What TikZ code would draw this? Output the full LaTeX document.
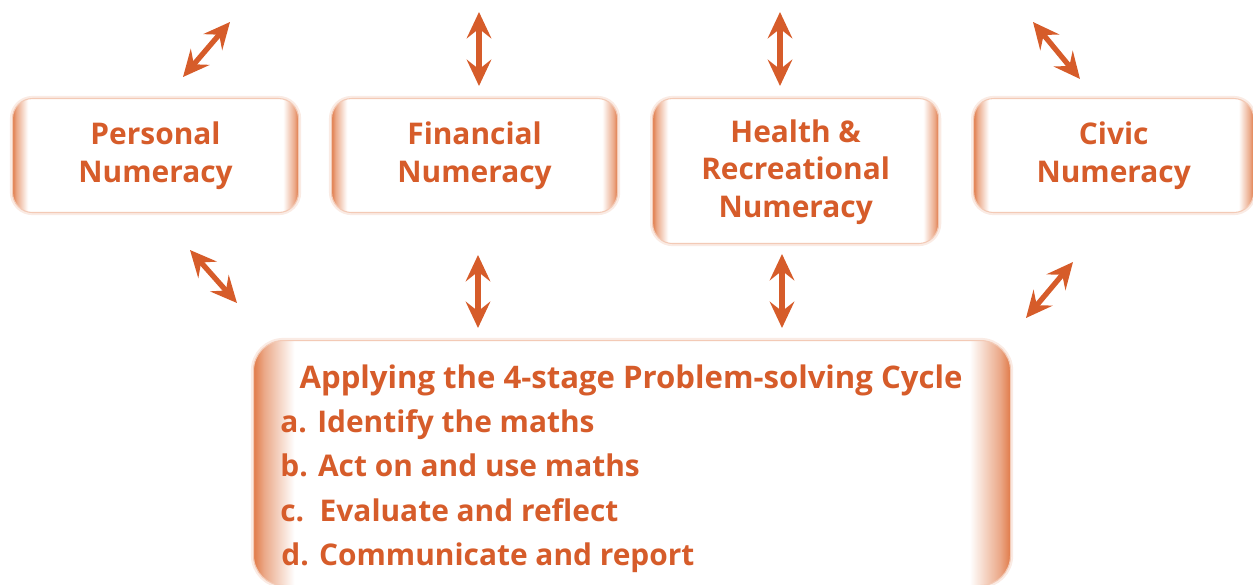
\documentclass[tikz,border=0pt]{standalone}
\usepackage{fontspec}
\setmainfont{Open Sans}
\usepackage{xcolor}
\usetikzlibrary{arrows.meta,positioning}
\definecolor{numorange}{RGB}{214,92,42}
\definecolor{numedge}{RGB}{224,122,72}
% white boxes with orange fading in from the left and right edges
\pgfdeclarehorizontalshading{edgeglow}{100bp}{color(0bp)=(numedge);
  color(25bp)=(numedge); color(25.7bp)=(numedge!65); color(27.7bp)=(white);
  color(72.3bp)=(white); color(74.3bp)=(numedge!65); color(75bp)=(numedge);
  color(100bp)=(numedge)}

\begin{document}
\begin{tikzpicture}[
    box/.style={shade,shading=edgeglow,draw=numedge!40,line width=0.6pt,
                preaction={draw=numedge!15,line width=3pt},
                rounded corners=0.4cm,minimum width=5.72cm,
                minimum height=2.28cm,align=center,text=numorange,
                font=\bfseries\fontsize{17}{21.5}\selectfont},
    stage/.style={anchor=base west,inner sep=0pt,text=numorange,
                  font=\bfseries\fontsize{17}{21}\selectfont},
    arr/.style={{Stealth[length=15pt,width=14pt,inset=5.5pt]}-%
                {Stealth[length=15pt,width=14pt,inset=5.5pt]},
                line width=3pt,numorange},
  ]
    \useasboundingbox (0,0) rectangle (25.06,-11.7);

    \node[box,anchor=north west](personal) at (0.24,-1.96){Personal\\Numeracy};
    \node[box,right=0.64cm of personal](financial){Financial\\Numeracy};
    \node[box,minimum height=2.9cm,right=0.68cm of financial.north east,
      anchor=north west,text depth=0.1cm](health){%
      Health \&\\Recreational\\Numeracy};
    \node[box,minimum width=5.6cm,right=0.68cm of health.north east,
      anchor=north west](civic){Civic\\Numeracy};

    % problem-solving cycle
    \node[box,rounded corners=0.6cm,minimum width=15.14cm,
      minimum height=4.9cm,anchor=north west](cycle) at (5.06,-6.8){};
    \node[stage,anchor=base,font=\bfseries\fontsize{17.7}{21}\selectfont]
      (title) at (12.62,-7.76){Applying the 4-stage Problem-solving Cycle};
    \node[stage](sa) at (5.6,-8.64){a. Identify the maths};
    \node[stage](sb) at (5.6,-9.53){b. Act on and use maths};
    \node[stage](sc) at (5.6,-10.42){c.\ \ Evaluate and reflect};
    \node[stage](sd) at (5.62,-11.3){d. Communicate and report};

    % arrows above the boxes
    \coordinate (pu1) at (3.66,-1.54);  \coordinate (pu2) at (4.6,-0.44);
    \coordinate (fu1) at (9.58,-1.72);  \coordinate (fu2) at (9.58,-0.24);
    \coordinate (hu1) at (15.6,-1.72);  \coordinate (hu2) at (15.6,-0.24);
    \coordinate (cu1) at (21.6,-1.58);  \coordinate (cu2) at (20.66,-0.44);
    % arrows between the boxes and the cycle
    \coordinate (pd1) at (3.8,-5.0);    \coordinate (pd2) at (4.74,-6.06);
    \coordinate (fd1) at (9.56,-5.1);   \coordinate (fd2) at (9.56,-6.56);
    \coordinate (hd1) at (15.64,-5.08); \coordinate (hd2) at (15.64,-6.56);
    \coordinate (cd1) at (21.46,-5.24); \coordinate (cd2) at (20.52,-6.36);

    \draw[arr](pu1)--(pu2); \draw[arr](fu1)--(fu2);
    \draw[arr](hu1)--(hu2); \draw[arr](cu1)--(cu2);
    \draw[arr](pd1)--(pd2); \draw[arr](fd1)--(fd2);
    \draw[arr](hd1)--(hd2); \draw[arr](cd1)--(cd2);
  \end{tikzpicture}
\end{document}
